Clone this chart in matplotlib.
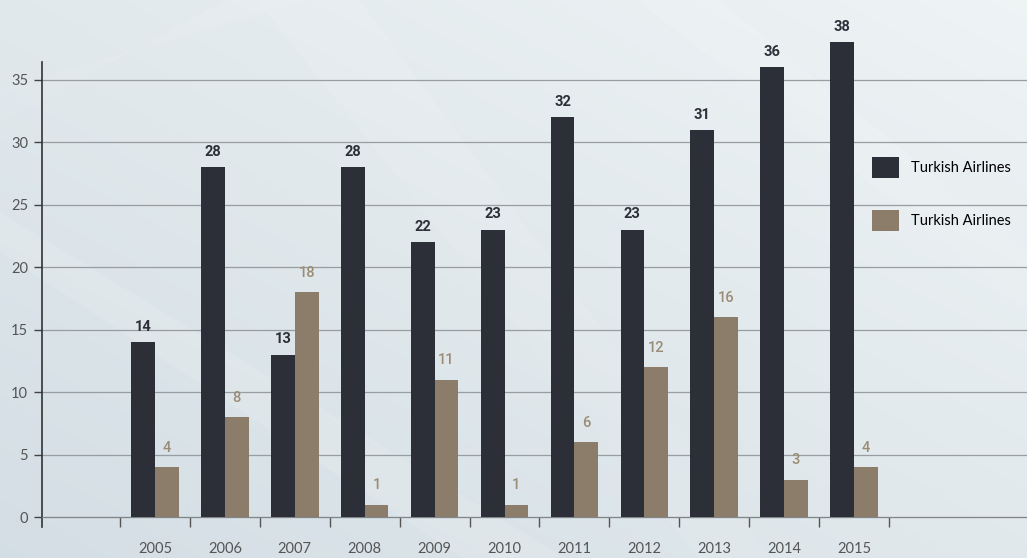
import numpy as np
import matplotlib
matplotlib.use("Agg")
import matplotlib.pyplot as plt
from matplotlib.patches import Patch, Polygon

# Datos por año
years = ["2005", "2006", "2007", "2008", "2009", "2010", "2011", "2012", "2013", "2014", "2015"]
serie_oscura = [14, 28, 13, 28, 22, 23, 32, 23, 31, 36, 38]
serie_clara = [4, 8, 18, 1, 11, 1, 6, 12, 16, 3, 4]
leyenda = ["Turkish Airlines", "Turkish Airlines"]

color_oscuro = "#2c2e38"
color_claro = "#8b7d69"

plt.rcParams["font.family"] = ["Lato", "DejaVu Sans"]

fig = plt.figure(figsize=(10.27, 5.58), dpi=100)

# Fondo degradado gris azulado con algunas franjas diagonales claras
bg = fig.add_axes([0, 0, 1, 1], zorder=-1)
xx, yy = np.meshgrid(np.linspace(0, 1, 300), np.linspace(0, 1, 200))
t = np.clip(0.5 * xx + 0.5 * yy, 0, 1)
c0 = np.array([0.83, 0.87, 0.895])
c1 = np.array([0.935, 0.955, 0.96])
img = c0[None, None, :] * (1 - t[..., None]) + c1[None, None, :] * t[..., None]
bg.imshow(img, extent=(0, 1, 0, 1), origin="lower", aspect="auto")
for pts, a in [
    ([(0.0, 0.55), (0.0, 0.62), (0.55, 0.0), (0.45, 0.0)], 0.12),
    ([(0.25, 1.0), (0.35, 1.0), (0.75, 0.0), (0.68, 0.0)], 0.08),
    ([(0.62, 1.0), (0.70, 1.0), (1.0, 0.55), (1.0, 0.45)], 0.10),
    ([(0.0, 0.78), (0.0, 0.84), (0.30, 1.0), (0.22, 1.0)], 0.08),
]:
    bg.add_patch(Polygon(pts, closed=True, facecolor="white", alpha=a, lw=0))
bg.set_xlim(0, 1)
bg.set_ylim(0, 1)
bg.axis("off")

# Ejes principales
ax = fig.add_axes([42 / 1027, 31 / 558, 1 - 42 / 1027, 527 / 558])
ax.patch.set_alpha(0)

x = np.arange(len(years))
ancho = 0.34
ax.bar(x - ancho / 2, serie_oscura, ancho, color=color_oscuro, zorder=3)
ax.bar(x + ancho / 2, serie_clara, ancho, color=color_claro, zorder=3)

for xi, v in zip(x, serie_oscura):
    ax.annotate(str(v), (xi - ancho / 2, v), xytext=(0, 6), textcoords="offset points",
                ha="center", va="bottom", fontsize=10.5, fontweight="bold",
                color="#2d2f38", family=["Roboto", "DejaVu Sans"])
for xi, v in zip(x, serie_clara):
    ax.annotate(str(v), (xi + ancho / 2, v), xytext=(0, 9), textcoords="offset points",
                ha="center", va="bottom", fontsize=10.5, fontweight="medium",
                color="#9a8b74", family=["Roboto", "DejaVu Sans"])

ax.set_xlim(-1.617, 12.475)
ax.set_ylim(-0.8, 41.4)

# Eje Y
ax.set_yticks(range(0, 40, 5))
ax.tick_params(axis="y", length=6, width=1, color="#444444", pad=4,
               labelsize=10.5, labelcolor="#555555")
ax.yaxis.grid(True, color="#979da1", linewidth=0.9)
ax.set_axisbelow(True)

# Eje X: marcas entre grupos, etiquetas en el centro
ax.set_xticks(np.arange(len(years) + 1) - 0.5)
ax.set_xticklabels([])
ax.tick_params(axis="x", which="major", direction="out", length=7, width=1, color="#555555")
ax.set_xticks(x, minor=True)
ax.set_xticklabels(years, minor=True)
ax.tick_params(axis="x", which="minor", length=0, pad=18, labelsize=10.5, labelcolor="#555555")

for s in ["top", "right"]:
    ax.spines[s].set_visible(False)
ax.spines["bottom"].set_position(("data", 0))
ax.spines["bottom"].set_color("#7f8589")
ax.spines["left"].set_bounds(-0.8, 36.4)
ax.spines["left"].set_color("#333333")
ax.spines["left"].set_linewidth(1.2)

handles = [Patch(facecolor=color_oscuro), Patch(facecolor=color_claro)]
ax.legend(handles, leyenda, loc="upper left", bbox_to_anchor=(872 / 1027, 1 - 157 / 558),
          bbox_transform=fig.transFigure, frameon=False, borderpad=0, borderaxespad=0,
          handlelength=1.85, handleheight=1.85, handletextpad=0.8,
          labelspacing=2.2, prop={"family": ["Lato", "DejaVu Sans"], "size": 10.5})

plt.savefig("out.png", dpi=100)
